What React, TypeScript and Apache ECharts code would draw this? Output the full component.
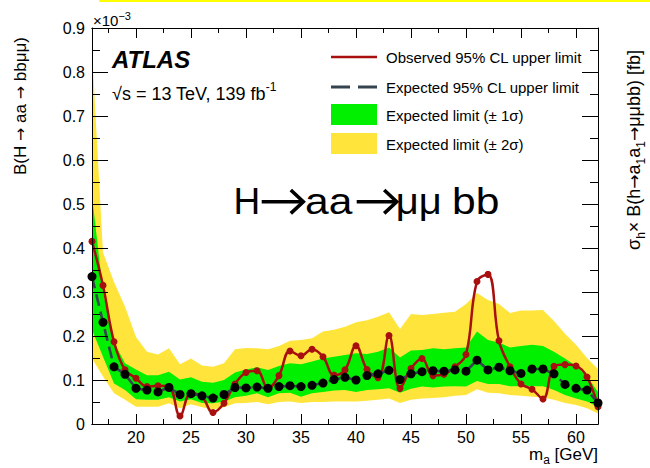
import React, { useEffect, useRef } from "react";
import * as echarts from "echarts";

const mass = [16, 17, 18, 19, 20, 21, 22, 23, 24, 25, 26, 27, 28, 29, 30, 31, 32, 33, 34, 35, 36, 37, 38, 39, 40, 41, 42, 43, 44, 45, 46, 47, 48, 49, 50, 51, 52, 53, 54, 55, 56, 57, 58, 59, 60, 61, 62];

const observed = [0.415, 0.315, 0.187, 0.123, 0.104, 0.085, 0.087, 0.085, 0.018, 0.07, 0.062, 0.026, 0.047, 0.091, 0.117, 0.121, 0.081, 0.11, 0.166, 0.155, 0.17, 0.153, 0.111, 0.123, 0.178, 0.124, 0.105, 0.201, 0.081, 0.126, 0.149, 0.11, 0.113, 0.13, 0.158, 0.324, 0.34, 0.189, 0.13, 0.091, 0.079, 0.057, 0.131, 0.135, 0.132, 0.107, 0.039];

const expected = [0.335, 0.231, 0.13, 0.113, 0.081, 0.077, 0.073, 0.083, 0.067, 0.069, 0.064, 0.059, 0.067, 0.083, 0.082, 0.084, 0.081, 0.085, 0.087, 0.085, 0.088, 0.093, 0.101, 0.106, 0.1, 0.11, 0.114, 0.122, 0.101, 0.114, 0.119, 0.121, 0.12, 0.123, 0.12, 0.145, 0.123, 0.129, 0.121, 0.115, 0.125, 0.125, 0.114, 0.09, 0.081, 0.077, 0.048];

const upper2 = [0.85, 0.39, 0.323, 0.267, 0.198, 0.164, 0.158, 0.172, 0.136, 0.149, 0.133, 0.13, 0.138, 0.17, 0.173, 0.172, 0.17, 0.177, 0.189, 0.191, 0.195, 0.21, 0.214, 0.221, 0.231, 0.236, 0.244, 0.254, 0.216, 0.25, 0.248, 0.25, 0.253, 0.255, 0.273, 0.298, 0.282, 0.273, 0.252, 0.258, 0.258, 0.259, 0.234, 0.205, 0.18, 0.15, 0.125];

const upper1 = [0.52, 0.3, 0.185, 0.138, 0.124, 0.111, 0.111, 0.119, 0.101, 0.106, 0.096, 0.094, 0.1, 0.117, 0.124, 0.129, 0.123, 0.132, 0.138, 0.136, 0.142, 0.149, 0.153, 0.157, 0.161, 0.159, 0.164, 0.174, 0.151, 0.167, 0.168, 0.172, 0.17, 0.172, 0.174, 0.21, 0.191, 0.185, 0.174, 0.177, 0.18, 0.177, 0.164, 0.149, 0.132, 0.108, 0.073];

const lower1 = [0.214, 0.153, 0.092, 0.077, 0.056, 0.055, 0.055, 0.061, 0.051, 0.056, 0.048, 0.047, 0.051, 0.061, 0.064, 0.07, 0.061, 0.07, 0.071, 0.062, 0.07, 0.073, 0.076, 0.077, 0.073, 0.077, 0.079, 0.081, 0.071, 0.08, 0.085, 0.083, 0.085, 0.086, 0.085, 0.098, 0.091, 0.091, 0.086, 0.086, 0.086, 0.086, 0.077, 0.066, 0.058, 0.051, 0.039];

const lower2 = [0.149, 0.108, 0.07, 0.055, 0.039, 0.039, 0.039, 0.047, 0.036, 0.045, 0.038, 0.033, 0.038, 0.047, 0.048, 0.05, 0.045, 0.05, 0.051, 0.048, 0.05, 0.05, 0.051, 0.051, 0.051, 0.053, 0.055, 0.058, 0.048, 0.055, 0.058, 0.059, 0.061, 0.064, 0.066, 0.079, 0.071, 0.07, 0.066, 0.064, 0.062, 0.06, 0.055, 0.048, 0.043, 0.036, 0.024];

const majorX = [20, 25, 30, 35, 40, 45, 50, 55, 60];
const minorX = [17.5, 22.5, 27.5, 32.5, 37.5, 42.5, 47.5, 52.5, 57.5];

const legendLabels = [
  "Observed 95% CL upper limit",
  "Expected 95% CL upper limit",
  "Expected limit (\u00b1 1\u03c3)",
  "Expected limit (\u00b1 2\u03c3)",
];

const FONT = "'Liberation Sans', Arial, Helvetica, sans-serif";
const ARROWFONT = "'DejaVu Sans', sans-serif";
const RED = "#a80f0f";
const DARK = "#34434e";
const GREEN = "#00f000";
const YELLOW = "#ffe53b";

export default function App() {
  const ref = useRef<HTMLDivElement>(null);

  useEffect(() => {
    if (!ref.current) return;
    const chart = echarts.init(ref.current, null, { renderer: "svg" });

    const xBase = (position: string, values: number[], len: number, labels: boolean) => ({
      type: "value",
      min: 16,
      max: 62,
      position,
      z: 5,
      splitLine: { show: false },
      axisLine: { show: true, onZero: false, lineStyle: { color: "#000", width: 1 } },
      axisTick: { show: true, customValues: values, inside: true, length: len, lineStyle: { color: "#000", width: 1 } },
      axisLabel: labels
        ? { show: true, customValues: values, color: "#000", fontSize: 16, fontFamily: FONT, margin: 5 }
        : { show: false },
    });

    const yBase = (position: string, labels: boolean) => ({
      type: "value",
      min: 0,
      max: 0.9,
      interval: 0.1,
      position,
      z: 5,
      splitLine: { show: false },
      axisLine: { show: true, onZero: false, lineStyle: { color: "#000", width: 1 } },
      axisTick: { show: true, inside: true, length: 16, lineStyle: { color: "#000", width: 1 } },
      minorTick: { show: true, splitNumber: 2, length: 8, lineStyle: { color: "#000", width: 1 } },
      axisLabel: labels
        ? {
            show: true,
            color: "#000",
            fontSize: 16,
            fontFamily: FONT,
            margin: 7,
            formatter: (v: number) => (v === 0 ? "0" : v.toFixed(1)),
          }
        : { show: false },
    });

    const legendY = [57, 87, 115, 144];
    const bigText = (t: string, x: number, sx: number) => ({
      type: "text",
      x,
      y: 201,
      scaleX: sx,
      style: { text: t, fontSize: 37, fontFamily: FONT, fill: "#000", verticalAlign: "middle" },
    });
    const bigArrow = (x1: number, x2: number) => ({
      type: "group",
      children: [
        { type: "line", shape: { x1, y1: 201.7, x2: x2 - 1.5, y2: 201.7 }, style: { stroke: "#000", lineWidth: 3.6 } },
        {
          type: "polyline",
          shape: { points: [[x2 - 12.5, 190], [x2, 201.7], [x2 - 12.5, 213.4]] },
          style: { stroke: "#000", lineWidth: 3.6, fill: null, lineJoin: "miter" },
        },
      ],
    });

    chart.setOption({
      animation: false,
      backgroundColor: "#fff",
      grid: { left: 92, right: 52, top: 28, bottom: 44 },
      xAxis: [
        xBase("bottom", majorX, 10, true),
        xBase("bottom", minorX, 5, false),
        xBase("top", majorX, 10, false),
        xBase("top", minorX, 5, false),
      ],
      yAxis: [yBase("left", true), yBase("right", false)],
      series: [
        {
          type: "custom",
          silent: true,
          z: 1,
          xAxisIndex: 0,
          yAxisIndex: 0,
          data: [[16, 0]],
          encode: { x: 0, y: 1 },
          renderItem: (_params: any, api: any) => {
            const poly = (up: number[], lo: number[], color: string) => {
              const pts: number[][] = [];
              for (let i = 0; i < mass.length; i++) pts.push(api.coord([mass[i], up[i]]));
              for (let i = mass.length - 1; i >= 0; i--) pts.push(api.coord([mass[i], lo[i]]));
              return { type: "polygon", shape: { points: pts }, style: { fill: color, stroke: null } };
            };
            return {
              type: "group",
              children: [poly(upper2, lower2, YELLOW), poly(upper1, lower1, GREEN)],
            };
          },
        },
        {
          type: "line",
          name: "Observed",
          z: 3,
          xAxisIndex: 0,
          yAxisIndex: 0,
          data: mass.map((m, i) => [m, observed[i]]),
          smooth: 0.4,
          symbol: "circle",
          symbolSize: 7,
          showAllSymbol: true,
          lineStyle: { color: RED, width: 2.5 },
          itemStyle: { color: RED, borderWidth: 0 },
        },
        {
          type: "line",
          name: "Expected",
          z: 4,
          xAxisIndex: 0,
          yAxisIndex: 0,
          data: mass.map((m, i) => [m, expected[i]]),
          symbol: "circle",
          symbolSize: 9,
          showAllSymbol: true,
          lineStyle: { color: DARK, width: 2.6, type: [12, 6] },
          itemStyle: { color: "#000", borderWidth: 0 },
        },
      ],
      graphic: [
        { type: "rect", shape: { x: 99, y: 0, width: 551, height: 2 }, style: { fill: "#ffff00" }, silent: true },
        {
          type: "text",
          x: 93,
          y: 19,
          style: {
            text: "{a|\u00d710}{s|\u22123}",
            rich: {
              a: { fontSize: 15, fontFamily: FONT, fill: "#000", lineHeight: 18, verticalAlign: "bottom" },
              s: { fontSize: 11, fontFamily: FONT, fill: "#000", lineHeight: 11, verticalAlign: "top" },
            },
            verticalAlign: "middle",
            align: "left",
          },
        },
        {
          type: "text",
          x: 20,
          y: 106,
          rotation: Math.PI / 2,
          style: {
            text: "{a|B(H }{r|\u2192}{a| aa }{r|\u2192}{a| bb\u03bc\u03bc)}",
            rich: {
              a: { fontSize: 17, fontFamily: FONT, fill: "#000", lineHeight: 20, verticalAlign: "middle" },
              r: { fontSize: 16, fontFamily: ARROWFONT, fill: "#000", lineHeight: 20, verticalAlign: "middle" },
            },
            align: "center",
            verticalAlign: "middle",
          },
        },
        {
          type: "text",
          x: 636,
          y: 150,
          rotation: Math.PI / 2,
          style: {
            text: "{a|\u03c3}{b|h}{a|\u00d7 B(h}{r|\u2192}{a|a}{b|1}{a|a}{b|1}{r|\u2192}{a|\u03bc\u03bcbb) [fb]}",
            rich: {
              a: { fontSize: 18, fontFamily: FONT, fill: "#000", lineHeight: 22, verticalAlign: "top" },
              r: { fontSize: 17, fontFamily: ARROWFONT, fill: "#000", lineHeight: 22, verticalAlign: "top" },
              b: { fontSize: 12, fontFamily: FONT, fill: "#000", lineHeight: 12, verticalAlign: "bottom" },
            },
            align: "center",
            verticalAlign: "middle",
          },
        },
        {
          type: "text",
          x: 598,
          y: 456,
          style: {
            text: "{a|m}{b|a}{a| [GeV]}",
            rich: {
              a: { fontSize: 17, fontFamily: FONT, fill: "#000", lineHeight: 20, verticalAlign: "top" },
              b: { fontSize: 12, fontFamily: FONT, fill: "#000", lineHeight: 12, verticalAlign: "bottom" },
            },
            align: "right",
            verticalAlign: "middle",
          },
        },
        {
          type: "text",
          x: 112,
          y: 59,
          style: {
            text: "ATLAS",
            fontSize: 24,
            fontWeight: "bold",
            fontStyle: "italic",
            fontFamily: FONT,
            fill: "#000",
            verticalAlign: "middle",
          },
        },
        {
          type: "text",
          x: 112,
          y: 92,
          style: {
            text: "{a|\u221as = 13 TeV, 139 fb}{s|-1}",
            rich: {
              a: { fontSize: 18, fontFamily: FONT, fill: "#000", lineHeight: 22, verticalAlign: "bottom" },
              s: { fontSize: 12, fontFamily: FONT, fill: "#000", lineHeight: 12, verticalAlign: "top" },
            },
            verticalAlign: "middle",
            align: "left",
          },
        },
        bigText("H", 233.5, 1),
        bigArrow(261.7, 303.3),
        bigText("aa", 305, 1.15),
        bigArrow(356.7, 396.7),
        bigText("\u03bc\u03bc", 395.7, 1.08),
        bigText("bb", 452, 1.15),
        { type: "line", shape: { x1: 331, y1: 57, x2: 377, y2: 57 }, style: { stroke: RED, lineWidth: 2.5 } },
        { type: "line", shape: { x1: 331, y1: 87, x2: 377, y2: 87 }, style: { stroke: DARK, lineWidth: 3, lineDash: [19, 8] } },
        { type: "rect", shape: { x: 331, y: 104, width: 46, height: 21 }, style: { fill: GREEN } },
        { type: "rect", shape: { x: 331, y: 133, width: 46, height: 21 }, style: { fill: YELLOW } },
        ...legendLabels.map((t, i) => ({
          type: "text",
          x: 386,
          y: legendY[i],
          style: { text: t, fontSize: 15, fontFamily: FONT, fill: "#000", verticalAlign: "middle" },
        })),
      ],
    });

    return () => chart.dispose();
  }, []);

  return <div ref={ref} style={{ position: "fixed", left: 0, top: 0, width: 650, height: 468 }} />;
}
